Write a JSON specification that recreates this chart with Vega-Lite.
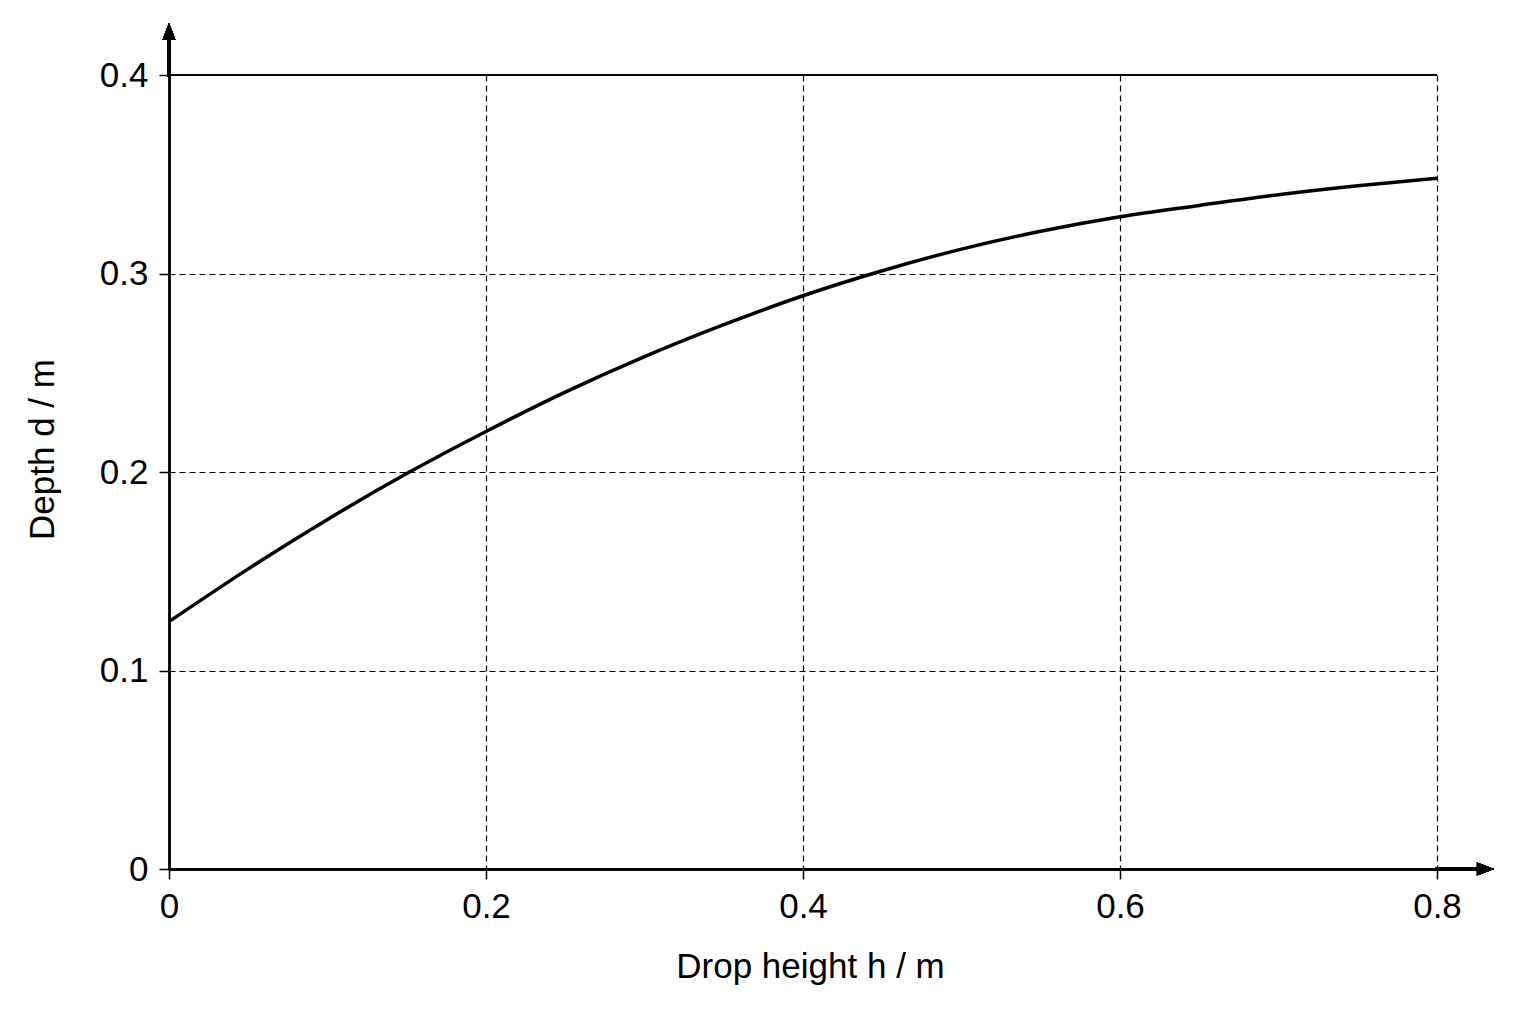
{
  "$schema": "https://vega.github.io/schema/vega-lite/v6.json",
  "width": 1268,
  "height": 794,
  "autosize": {"type": "none"},
  "padding": {"left": 169, "top": 75, "right": 99, "bottom": 155},
  "background": "white",
  "config": {"view": {"stroke": null}, "font": "Liberation Sans"},
  "data": {
    "values": [
      {"h": 0, "d": 0.1246},
      {"h": 0.05, "d": 0.1512},
      {"h": 0.1, "d": 0.1761},
      {"h": 0.15, "d": 0.1992},
      {"h": 0.2, "d": 0.2204},
      {"h": 0.25, "d": 0.2402},
      {"h": 0.3, "d": 0.2581},
      {"h": 0.35, "d": 0.2742},
      {"h": 0.4, "d": 0.2888},
      {"h": 0.45, "d": 0.3014},
      {"h": 0.5, "d": 0.3123},
      {"h": 0.55, "d": 0.3213},
      {"h": 0.6, "d": 0.3286},
      {"h": 0.65, "d": 0.3343},
      {"h": 0.7, "d": 0.3397},
      {"h": 0.75, "d": 0.3442},
      {"h": 0.8, "d": 0.348}
    ]
  },
  "layer": [
    {
      "mark": {"type": "line", "color": "black", "strokeWidth": 3.5, "interpolate": "monotone"},
      "encoding": {
        "x": {
          "field": "h",
          "type": "quantitative",
          "scale": {"domain": [0, 0.8], "nice": false, "zero": false},
          "axis": {
            "values": [0, 0.2, 0.4, 0.6, 0.8],
            "format": "~g",
            "title": "Drop height h / m",
            "grid": true,
            "gridColor": "black",
            "gridDash": [6, 4],
            "gridWidth": 1.2,
            "gridOpacity": 1,
            "domainColor": "black",
            "domainWidth": 2.8,
            "tickColor": "black",
            "tickWidth": 1.5,
            "tickSize": 10,
            "labelFont": "Liberation Sans",
            "labelFontSize": 35,
            "labelColor": "black",
            "labelPadding": 38,
            "labelBaseline": "alphabetic",
            "labelFlush": false,
            "labelOverlap": false,
            "titleFont": "Liberation Sans",
            "titleFontSize": 35,
            "titleFontWeight": "normal",
            "titleColor": "black",
            "titleBaseline": "alphabetic",
            "titleAlign": "center",
            "titleY": 108,
            "titleX": 641
          }
        },
        "y": {
          "field": "d",
          "type": "quantitative",
          "scale": {"domain": [0, 0.4], "nice": false, "zero": false},
          "axis": {
            "values": [0, 0.1, 0.2, 0.3, 0.4],
            "format": "~g",
            "title": "Depth d / m",
            "grid": true,
            "gridColor": "black",
            "gridDash": [6, 4],
            "gridWidth": 1.2,
            "gridOpacity": 1,
            "domainColor": "black",
            "domainWidth": 2.8,
            "tickColor": "black",
            "tickWidth": 1.5,
            "tickSize": 10,
            "labelFont": "Liberation Sans",
            "labelFontSize": 35,
            "labelColor": "black",
            "labelPadding": 11,
            "labelFlush": false,
            "labelOverlap": false,
            "titleFont": "Liberation Sans",
            "titleFontSize": 35,
            "titleFontWeight": "normal",
            "titleColor": "black",
            "titleAngle": 270,
            "titleBaseline": "alphabetic",
            "titleAlign": "center",
            "titleX": -116,
            "titleY": 374
          }
        }
      }
    },
    {
      "mark": {"type": "rule", "color": "black", "strokeWidth": 1.5},
      "encoding": {"y": {"datum": 0.4}}
    },
    {
      "mark": {"type": "rule", "color": "black", "strokeWidth": 2.8},
      "encoding": {"x": {"datum": 0}, "y": {"datum": 0.399}, "y2": {"datum": 0.4176}}
    },
    {
      "mark": {"type": "rule", "color": "black", "strokeWidth": 2.8},
      "encoding": {"y": {"datum": 0}, "x": {"datum": 0.799}, "x2": {"datum": 0.8252}}
    },
    {
      "mark": {"type": "point", "shape": "M0,-1L-0.38,0L0.38,0Z", "filled": true, "size": 1156, "color": "black", "opacity": 1, "strokeWidth": 0},
      "encoding": {"x": {"datum": 0}, "y": {"datum": 0.4176}}
    },
    {
      "mark": {"type": "point", "shape": "M1,0L0,-0.38L0,0.38Z", "filled": true, "size": 1156, "color": "black", "opacity": 1, "strokeWidth": 0},
      "encoding": {"x": {"datum": 0.8252}, "y": {"datum": 0}}
    }
  ]
}
